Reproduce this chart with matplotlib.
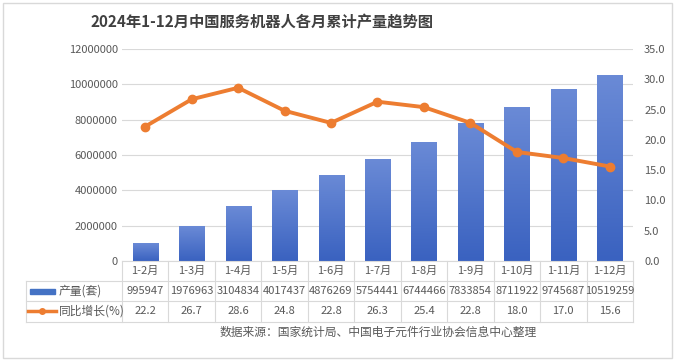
import numpy as np
import matplotlib.pyplot as plt
from matplotlib.colors import LinearSegmentedColormap
from matplotlib.patches import Rectangle
from matplotlib.ticker import FuncFormatter

plt.rcParams['font.family'] = ['Noto Sans CJK SC', 'DejaVu Sans']

title = '2024年1-12月中国服务机器人各月累计产量趋势图'
source = '数据来源：国家统计局、中国电子元件行业协会信息中心整理'
months = ['1-2月', '1-3月', '1-4月', '1-5月', '1-6月', '1-7月',
          '1-8月', '1-9月', '1-10月', '1-11月', '1-12月']
output = [995947, 1976963, 3104834, 4017437, 4876269, 5754441,
          6744466, 7833854, 8711922, 9745687, 10519259]
growth = [22.2, 26.7, 28.6, 24.8, 22.8, 26.3, 25.4, 22.8, 18.0, 17.0, 15.6]
row_names = ['产量(套)', '同比增长(%)']

W, H = 675, 362
x0, x1, yb, yt = 122, 633, 261, 49  # plot area in pixels
grid_c = '#d9d9d9'
txt_c = '#595959'
orange = '#ED7D31'

fig = plt.figure(figsize=(W / 100, H / 100), dpi=100)
ax = fig.add_axes([x0 / W, 1 - yb / H, (x1 - x0) / W, (yb - yt) / H])
ax2 = ax.twinx()

xs = np.arange(len(months))
bars = ax.bar(xs, output, width=0.54, color='none', zorder=2)
cmap = LinearSegmentedColormap.from_list('blu', ['#3a62c0', '#6a8ad6'])
grad = np.linspace(0, 1, 100).reshape(-1, 1)
for b in bars:
    im = ax.imshow(grad, cmap=cmap, aspect='auto', origin='lower',
                   extent=[b.get_x(), b.get_x() + b.get_width(), 0, b.get_height()],
                   zorder=2)
    im.set_clip_path(b)

ax2.plot(xs, growth, color=orange, lw=2.8, marker='o', ms=6, zorder=3)

ax.set_xlim(-0.5, len(months) - 0.5)
ax.set_ylim(0, 12000000)
ax.set_yticks(np.arange(0, 12000001, 2000000))
ax.yaxis.set_major_formatter(FuncFormatter(lambda v, p: f'{int(v)}'))
ax2.set_ylim(0, 35)
ax2.set_yticks(np.arange(0, 35.1, 5))
ax2.yaxis.set_major_formatter(FuncFormatter(lambda v, p: f'{v:.1f}'))
ax.set_xticks([])
ax.yaxis.grid(True, color=grid_c, lw=0.8)
ax.set_axisbelow(True)
ax.tick_params(axis='y', length=0, labelsize=8, colors=txt_c, pad=3)
ax2.tick_params(axis='y', length=0, labelsize=8, colors=txt_c, pad=8)
for a in (ax, ax2):
    for s in a.spines.values():
        s.set_visible(False)

# overlay for table, title and frame (pixel coordinates)
ov = fig.add_axes([0, 0, 1, 1])
ov.set_xlim(0, W)
ov.set_ylim(H, 0)
ov.axis('off')
ov.patch.set_alpha(0)

n = len(months)
edges = x0 + (x1 - x0) / n * np.arange(n + 1)
centers = (edges[:-1] + edges[1:]) / 2
rows = [261, 281, 301, 322]
tl = 26

ov.plot([x0, x1], [rows[0], rows[0]], color=grid_c, lw=0.8)
for y in rows[1:]:
    ov.plot([tl, x1], [y, y], color=grid_c, lw=0.8)
for e in edges:
    ov.plot([e, e], [rows[0], rows[3]], color=grid_c, lw=0.8)
ov.plot([tl, tl], [rows[1], rows[3]], color=grid_c, lw=0.8)

for cx, m, v, g in zip(centers, months, output, growth):
    ov.text(cx, 271, m, ha='center', va='center', fontsize=8, color=txt_c)
    ov.text(cx, 291, str(v), ha='center', va='center', fontsize=8, color=txt_c)
    ov.text(cx, 311, f'{g:.1f}', ha='center', va='center', fontsize=8, color=txt_c)

ov.add_patch(Rectangle((30, 289), 25, 5, color='#4472c4'))
ov.plot([28, 56], [311, 311], color=orange, lw=2.5)
ov.plot([42], [311], 'o', color=orange, ms=4)
ov.text(59, 291, row_names[0], va='center', fontsize=8.5, color=txt_c)
ov.text(59, 311, row_names[1], va='center', fontsize=8.5, color=txt_c)

ov.text(262, 22, title, ha='center', va='center', fontsize=11,
        fontweight='bold', color='#404040')
ov.text(378, 332, source, ha='center', va='center', fontsize=8.5, color=txt_c)
ov.add_patch(Rectangle((3, 3), W - 6, H - 7, fill=False, edgecolor=grid_c, lw=1))

fig.savefig('out.png', dpi=100)
